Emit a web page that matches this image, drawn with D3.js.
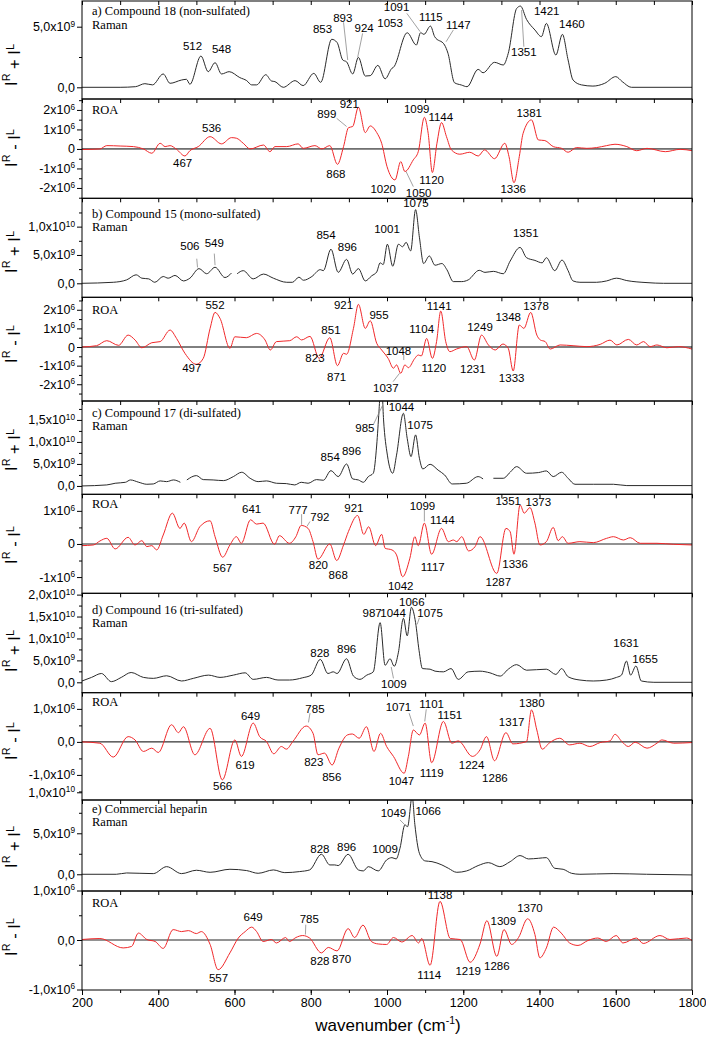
<!DOCTYPE html>
<html>
<head>
<meta charset="utf-8">
<script src="https://cdn.jsdelivr.net/npm/d3@7"></script>
<style>
  body { margin: 0; background: #fff; }
  .sans { font-family: "Liberation Sans", Arial, sans-serif; }
  .serif { font-family: "Liberation Serif", "Times New Roman", serif; }
</style>
</head>
<body>
<svg id="chart" class="sans" width="706" height="1038"></svg>
<script>
// Raman traces in units of 1e9, ROA traces in units of 1e6; [wavenumber, value], null = gap
const ramanA = [[200,0],[300,0],[340,0.05],[365,0.3],[385,0.2],[413,1.1],[431,0.33],[461,0.6],[474,0.66],[483,0.25],[512,2.58],[531,1.29],[549,2.03],[566,1.1],[586,1.29],[614,0.8],[632,0.55],[645,0.2],[658,0.2],[682,1.04],[697,0.52],[706,0.47],[728,0],[759,0.55],[780,0.14],[808,1.15],[826,0.41],[855,3.96],[869,3.7],[884,2.25],[894,2.1],[910,1.1],[925,2.47],[943,0.93],[956,0.96],[976,1.81],[995,0.7],[1013,1.57],[1017,1.65],[1053,4.5],[1077,3.49],[1088,4.5],[1097,4.37],[1114,5.05],[1125,4.18],[1151,3.49],[1160,2.8],[1177,0.38],[1195,0.19],[1210,0.05],[1239,1.48],[1252,1.2],[1282,2.06],[1305,1.84],[1318,2.8],[1340,6.5],[1350,6.7],[1366,5.6],[1388,4.73],[1405,4.18],[1418,5.27],[1443,2.66],[1460,4.37],[1475,2.25],[1488,0.6],[1510,0.2],[1540,0.1],[1571,0.33],[1600,0.88],[1617,0.47],[1641,0],[1800,0]];
const roaA = [[200,-0.03],[247,0],[265,0.17],[300,0.15],[335,0.12],[361,0],[383,-0.22],[405,0.29],[418,0.12],[431,0.17],[448,-0.02],[470,-0.36],[483,-0.09],[505,0.12],[536,0.63],[566,0.26],[592,0.58],[605,0.55],[623,0.29],[641,0],[676,0.2],[693,-0.14],[706,0.12],[737,0.12],[767,0.26],[780,0.03],[811,0.17],[829,0],[850,0.17],[870,-0.79],[886,0.12],[899,1.09],[910,1.15],[925,2.14],[943,0.84],[956,1.18],[973,0.84],[986,0.29],[1000,-0.9],[1021,-1.59],[1036,-0.65],[1047,-1.16],[1069,-0.56],[1082,-0.14],[1098,1.62],[1108,0.8],[1119,-1.21],[1131,0.29],[1143,1.35],[1156,0.63],[1169,-0.05],[1191,-0.27],[1217,-0.17],[1239,-0.36],[1256,-0.05],[1282,-0.5],[1309,0.29],[1320,-0.39],[1333,-1.73],[1347,-0.39],[1357,0.8],[1379,1.49],[1397,0.46],[1414,0.43],[1436,0.12],[1458,0.03],[1475,-0.17],[1497,0.07],[1524,0.03],[1550,0.07],[1576,0.17],[1598,0.24],[1629,0.12],[1655,-0.09],[1682,0.03],[1730,-0.14],[1769,-0.02],[1800,-0.09]];
const ramanB = [[200,0],[282,0.18],[317,0.6],[342,1.5],[357,0.9],[375,0.78],[391,0.18],[413,1.2],[426,0.9],[444,1.39],[466,0.42],[483,0.9],[507,2.59],[527,1.69],[549,2.83],[575,1.02],[592,1.81],[598,null],[607,1.69],[623,2.23],[649,0.78],[676,1.63],[702,0.9],[737,0.18],[752,0.18],[769,1.08],[781,0.54],[803,1.2],[825,2.41],[833,2.23],[853,6.02],[872,1.93],[894,4.22],[910,1.63],[925,2.59],[943,0.42],[960,1.33],[973,2.0],[982,3.61],[990,3.31],[1001,6.9],[1015,3.01],[1030,6.9],[1041,6.45],[1050,7.23],[1062,5.72],[1075,13.0],[1085,8.13],[1096,3.49],[1111,4.82],[1126,3.19],[1144,3.49],[1157,2.41],[1174,0.3],[1196,0.3],[1213,0.6],[1242,2.29],[1257,1.93],[1279,2.11],[1305,1.69],[1323,3.92],[1349,6.33],[1366,4.52],[1388,4.04],[1407,3.61],[1418,4.52],[1440,2.23],[1459,4.1],[1475,2.23],[1488,0.42],[1506,0.18],[1550,0.18],[1576,0.42],[1602,0.9],[1629,0.48],[1682,0.12],[1725,0],[1800,0]];
const roaB = [[200,0],[238,0.07],[265,0.34],[296,0.09],[321,0.64],[339,0.38],[357,-0.04],[383,0.23],[405,0.29],[431,0.91],[448,0.46],[470,-0.34],[500,-0.93],[518,-0.61],[536,1.0],[549,1.86],[562,1.54],[588,-0.07],[601,0.55],[631,0.5],[658,0.73],[680,0.38],[694,-0.16],[710,0.29],[745,0.34],[763,0.55],[776,0.38],[798,0.57],[822,-0.61],[850,0.5],[870,-1.0],[886,-0.34],[894,-0.39],[912,1.0],[925,2.29],[943,1.0],[956,1.41],[973,0.2],[986,-0.16],[1003,-0.61],[1017,-1.14],[1025,-0.96],[1036,-1.41],[1047,-0.96],[1056,-1.11],[1073,-0.61],[1082,-0.43],[1090,-0.48],[1104,0.46],[1119,-0.61],[1130,0.29],[1141,1.93],[1154,0.29],[1165,-0.25],[1182,-0.11],[1209,0.02],[1229,-0.7],[1248,0.64],[1266,0.11],[1284,-0.16],[1304,0.16],[1318,-0.07],[1331,-1.29],[1347,1.18],[1359,1.0],[1377,1.86],[1393,0.64],[1402,0.38],[1415,0.29],[1428,-0.11],[1454,0.11],[1488,0.07],[1524,0.02],[1559,0.14],[1585,0.37],[1603,0.11],[1633,0.41],[1655,0.11],[1673,0.29],[1690,0.02],[1708,0.11],[1734,-0.04],[1765,0.02],[1800,-0.11]];
const ramanC = [[200,0],[265,0.23],[287,0.61],[314,0.83],[327,1.36],[349,0.83],[370,0.38],[387,0.45],[405,1.14],[422,0.98],[440,1.36],[458,0.83],[466,null],[475,1.36],[500,2.35],[518,1.44],[544,1.36],[571,1.21],[597,2.12],[619,3.11],[641,1.74],[662,0.98],[684,1.14],[710,0.61],[736,0.53],[758,0.23],[775,0.83],[793,0.61],[815,1.44],[833,1.29],[853,3.48],[872,2.12],[894,4.99],[910,1.59],[925,1.36],[938,0.83],[951,2.12],[964,2.88],[973,9.3],[979,17],[985,25],[991,15],[1001,7.0],[1015,2.88],[1025,7.0],[1043,16.5],[1053,10.8],[1063,6.67],[1075,11.6],[1085,6.29],[1094,3.86],[1113,4.92],[1134,3.6],[1151,2.5],[1171,0.45],[1208,0.61],[1239,2.12],[1252,1.59],[1265,null],[1279,1.74],[1305,1.74],[1323,3.11],[1340,4.39],[1366,2.88],[1397,3.03],[1418,3.41],[1436,2.12],[1458,3.11],[1475,1.74],[1493,0.38],[1541,0.38],[1594,0.38],[1629,0.08],[1800,0.08]];
const roaC = [[200,-0.05],[230,-0.03],[247,0.09],[265,0.17],[287,-0.15],[321,0.2],[339,-0.03],[357,0.1],[370,-0.08],[383,-0.05],[396,-0.18],[413,0.27],[437,0.93],[457,0.47],[468,0.63],[487,0.07],[509,0.52],[536,0.7],[549,0.22],[569,-0.4],[588,-0.03],[605,0.22],[618,0.02],[642,0.73],[658,0.6],[675,0.63],[705,-0.01],[718,0.25],[744,0.02],[761,0.22],[775,0.56],[793,0.47],[806,0.07],[819,-0.46],[850,0],[868,-0.5],[886,-0.03],[899,0.38],[923,0.86],[939,0.29],[952,0.52],[970,-0.05],[986,0.29],[995,-0.13],[1013,-0.18],[1025,-0.33],[1041,-0.99],[1060,-0.43],[1073,0.22],[1082,-0.05],[1098,0.63],[1117,-0.31],[1143,0.47],[1161,0.07],[1174,0.12],[1183,0.07],[1196,0.22],[1214,-0.21],[1231,-0.08],[1244,0.22],[1288,-0.89],[1312,0.47],[1323,0.37],[1333,-0.31],[1349,1.18],[1360,0.93],[1375,1.1],[1388,0.63],[1401,-0.03],[1418,0.07],[1436,0.5],[1449,0.1],[1460,0.22],[1475,0.02],[1506,0.07],[1541,0.04],[1576,0.17],[1594,0.22],[1620,0.12],[1638,0.19],[1664,0.02],[1708,0.02],[1752,-0.01],[1800,-0.03]];
const ramanD = [[200,0.3],[225,1.12],[251,2.01],[277,0.15],[303,1.12],[329,2.24],[361,1.12],[387,0.9],[422,1.49],[461,0.3],[492,0.9],[532,1.64],[562,1.12],[597,1.64],[628,2.16],[649,0.67],[684,1.12],[714,0.52],[744,0.52],[779,1.04],[801,1.64],[825,5.22],[845,2.01],[859,2.39],[869,2.01],[894,5.37],[912,1.42],[929,0.67],[947,1.64],[964,2.39],[982,13.6],[995,3.88],[1008,5.37],[1019,3.66],[1030,6.87],[1043,14.6],[1053,10.6],[1064,17.1],[1075,13.6],[1084,7.31],[1093,3.13],[1113,2.99],[1126,2.54],[1148,2.39],[1168,3.13],[1187,0.67],[1213,2.39],[1244,2.54],[1270,2.16],[1297,1.42],[1318,2.99],[1340,4.03],[1366,2.76],[1418,2.99],[1443,1.79],[1458,3.13],[1475,1.27],[1506,0.52],[1541,0.3],[1576,0.52],[1602,1.12],[1615,1.64],[1628,4.85],[1639,1.64],[1653,3.73],[1667,0.3],[1700,0],[1800,0]];
const roaD = [[200,0],[247,-0.04],[282,-0.46],[321,0.16],[339,0.06],[361,-0.29],[383,-0.19],[400,-0.32],[435,0.52],[453,0.28],[466,0.46],[496,-0.39],[536,0.41],[568,-1.15],[601,0.06],[618,-0.44],[649,0.57],[666,0.16],[684,0.01],[703,-0.36],[723,-0.14],[736,-0.22],[753,0.01],[788,0.48],[806,0.26],[819,-0.39],[836,-0.34],[856,-0.7],[874,-0.19],[896,0.21],[909,0.24],[927,0.11],[946,0.46],[966,-0.29],[983,0.26],[999,-0.14],[1017,-0.44],[1045,-0.95],[1056,-0.44],[1069,0.36],[1085,0.21],[1100,0.57],[1117,-0.63],[1148,0.62],[1170,-0.04],[1187,0.03],[1224,-0.44],[1244,-0.24],[1261,0.16],[1282,-0.57],[1312,0.28],[1330,-0.06],[1366,0.01],[1379,0.97],[1393,0.36],[1407,-0.22],[1427,-0.02],[1453,0.11],[1479,-0.09],[1506,-0.04],[1532,-0.14],[1559,-0.02],[1585,0.03],[1598,0.23],[1616,0.01],[1633,-0.14],[1651,-0.01],[1682,-0.19],[1708,-0.04],[1721,0.06],[1752,-0.04],[1800,-0.02]];
const ramanE = [[200,0],[290,0],[317,0.16],[352,0.12],[387,0.08],[422,0.93],[461,0.08],[500,0.49],[536,0.24],[588,0.61],[632,0.45],[662,0.12],[702,0.53],[732,0.2],[771,0.33],[797,0.53],[828,2.44],[850,1.14],[863,1.14],[872,1.06],[898,2.44],[925,0.53],[938,0.41],[951,0.93],[977,0.41],[999,1.75],[1013,2.03],[1024,1.87],[1034,3.17],[1047,6.02],[1054,5.81],[1066,9.5],[1073,6.1],[1085,2.56],[1100,1.63],[1118,1.54],[1144,1.14],[1161,0.73],[1183,0.24],[1209,0.41],[1239,1.06],[1266,1.42],[1296,0.93],[1323,1.54],[1349,2.28],[1371,1.87],[1397,1.95],[1418,2.03],[1440,0.73],[1462,0.61],[1484,0.12],[1506,0],[1593,0.08],[1681,0],[1800,-0.08]];
const roaE = [[200,0.01],[247,0.03],[308,-0.16],[330,-0.13],[348,0.14],[370,0.01],[392,-0.03],[413,-0.17],[439,0.21],[461,0.17],[479,0.19],[500,0.13],[513,0.17],[536,-0.09],[557,-0.6],[588,-0.26],[610,0.04],[628,0.17],[645,0.26],[658,0.17],[675,-0.03],[697,0.01],[710,-0.06],[734,0.05],[744,-0.03],[761,0.05],[779,0.09],[797,0.04],[828,-0.26],[846,-0.15],[869,-0.22],[898,0.23],[915,0.05],[937,0.3],[959,-0.03],[977,-0.08],[999,-0.09],[1017,0.05],[1039,-0.04],[1066,0.09],[1083,-0.06],[1091,0.03],[1113,-0.51],[1139,0.78],[1166,0.03],[1192,0.01],[1218,-0.45],[1244,-0.08],[1262,0.39],[1288,-0.33],[1307,0.21],[1327,-0.09],[1345,0.05],[1369,0.43],[1388,0.11],[1401,-0.36],[1418,-0.16],[1437,0.26],[1457,0.14],[1479,-0.06],[1501,-0.11],[1527,-0.01],[1553,0.04],[1575,-0.03],[1601,0.09],[1619,-0.06],[1654,0.04],[1672,-0.07],[1716,0.09],[1742,0.01],[1786,0.04],[1800,-0.01]];

// peak labels: [text, wavenumber, value] and leader lines [wn1, v1, wn2, v2]
const annRamanA = [["512",490,3.43],["548",566,3.16],["853",831,4.78],["893",884,5.74],["924",940,4.86],["1053",1008,5.27],["1091",1025,6.59],["1115",1115,5.77],["1147",1187,5.14],["1351",1359,2.94],["1421",1419,6.29],["1460",1485,5.19]];
const leadRamanA = [[886,5.36,897,2.25],[936,4.45,923,2.47],[1052,6.1,1087,4.59],[1174,4.73,1155,3.76],[1359,3.35,1353,6.37]];
const annRoaA = [["467",464,-0.74],["536",540,1.06],["868",866,-1.28],["899",842,1.78],["921",901,2.29],["1020",990,-2.05],["1050",1083,-2.24],["1099",1078,2.05],["1144",1141,1.66],["1120",1117,-1.59],["1336",1331,-2.05],["1381",1373,1.83]];
const leadRoaA = [[868,1.57,894,1.15],[1069,-1.93,1050,-1.16]];
const annRamanB = [["506",483,6.5],["549",547,7.05],["854",840,8.6],["896",896,6.45],["1001",1000,9.5],["1075",1076,14.1],["1351",1364,8.9]];
const leadRamanB = [[501,4.34,503,2.8],[547,5.24,549,3.2]];
const annRoaB = [["552",549,2.25],["497",488,-1.1],["851",853,0.91],["921",886,2.25],["955",979,1.71],["823",811,-0.61],["871",868,-1.59],["1037",997,-2.18],["1048",1030,-0.21],["1104",1091,0.95],["1141",1137,2.21],["1120",1123,-1.11],["1249",1244,1.09],["1231",1225,-1.2],["1348",1318,1.63],["1333",1327,-1.64],["1378",1391,2.21]];
const leadRoaB = [[1016,-1.86,1033,-1.41],[1044,-0.43,1044,-0.7]];
const annRamanC = [["985",942,13.1],["854",851,6.67],["896",907,7.95],["1044",1038,18.0],["1075",1087,13.9]];
const leadRamanC = [[964,13.9,989,18.4]];
const annRoaC = [["641",645,1.06],["567",569,-0.72],["777",767,1.03],["792",824,0.83],["820",820,-0.62],["868",872,-0.94],["921",913,1.08],["1099",1093,1.16],["1144",1145,0.73],["1117",1120,-0.69],["1042",1036,-1.26],["1287",1292,-1.14],["1336",1336,-0.59],["1351",1318,1.3],["1373",1397,1.28]];
const leadRoaC = [[776,0.9,776,0.58],[798,0.68,790,0.53],[1098,1.03,1098,0.68]];
const annRamanD = [["987",961,15.8],["1044",1016,15.8],["828",824,6.64],["896",894,7.6],["1066",1065,18.4],["1075",1113,15.8],["1009",1018,-0.37],["1631",1627,8.96],["1655",1677,5.37]];
const leadRamanD = [[1085,14.7,1079,13.2],[1017,0.9,1011,3.5]];
const annRoaD = [["649",642,0.77],["566",569,-1.33],["619",628,-0.7],["785",811,1.0],["823",808,-0.62],["856",855,-1.05],["1071",1030,1.05],["1101",1117,1.15],["1151",1165,0.82],["1047",1038,-1.17],["1119",1117,-0.95],["1224",1222,-0.7],["1286",1283,-1.08],["1317",1327,0.6],["1380",1380,1.17]];
const leadRoaD = [[798,0.87,794,0.59],[1058,0.87,1069,0.48],[1103,0.99,1099,0.62]];
const annRamanE = [["828",824,3.05],["896",894,3.37],["1009",995,3.1],["1049",1017,7.44],["1066",1108,7.76]];
const leadRamanE = [[1034,6.63,1047,6.02]];
const annRoaE = [["649",649,0.46],["557",558,-0.77],["785",796,0.42],["828",824,-0.43],["870",881,-0.38],["1138",1139,0.9],["1114",1111,-0.7],["1219",1213,-0.62],["1286",1288,-0.52],["1309",1305,0.38],["1370",1375,0.65]];
const leadRoaE = [[787,0.31,786,0.11]];

// y tick labels: [value, mantissa, exponent]
const ticksRamanA = [[0,"0,0",""],[5,"5,0x10","9"]];
const ticksRoaAB = [[2,"2x10","6"],[1,"1x10","6"],[0,"0",""],[-1,"-1x10","6"],[-2,"-2x10","6"]];
const ticksRamanB = [[0,"0,0",""],[5,"5,0x10","9"],[10,"1,0x10","10"]];
const ticksRamanC = [[0,"0,0",""],[5,"5,0x10","9"],[10,"1,0x10","10"],[15,"1,5x10","10"]];
const ticksRoaC = [[1,"1x10","6"],[0,"0",""],[-1,"-1x10","6"]];
const ticksRamanD = [[0,"0,0",""],[5,"5,0x10","9"],[10,"1,0x10","10"],[15,"1,5x10","10"],[20,"2,0x10","10"]];
const ticksRoaDE = [[1,"1,0x10","6"],[0,"0,0",""],[-1,"-1,0x10","6"]];
const ticksRamanE = [[0,"0,0",""],[5,"5,0x10","9"],[10,"1,0x10","10"]];
const xTicks = [200,400,600,800,1000,1200,1400,1600,1800];

const X0 = 82, X1 = 692;
const x = d3.scaleLinear().domain([200, 1800]).range([X0, X1]);
const svg = d3.select("#chart");

const panels = [
  {kind:"raman", data:ramanA, ann:annRamanA, lead:leadRamanA, ticks:ticksRamanA, step:5, top:1, bottom:99, domain:[-0.965,7.12], titleY:65, head:["a) Compound 18 (non-sulfated)","Raman"], headY:[11,25]},
  {kind:"roa", data:roaA, ann:annRoaA, lead:leadRoaA, ticks:ticksRoaAB, step:1, top:99, bottom:198.3, domain:[-2.53,2.56], titleY:148, head:["ROA"], headY:[110], zero:"#000"},
  {kind:"raman", data:ramanB, ann:annRamanB, lead:leadRamanB, ticks:ticksRamanB, step:5, top:198.3, bottom:297.3, domain:[-2.47,15.0], titleY:252, head:["b) Compound 15 (mono-sulfated)","Raman"], headY:[213.5,226.5]},
  {kind:"roa", data:roaB, ann:annRoaB, lead:leadRoaB, ticks:ticksRoaAB, step:1, top:297.3, bottom:401, domain:[-2.9,2.67], titleY:344, head:["ROA"], headY:[310], zero:"#000"},
  {kind:"raman", data:ramanC, ann:annRamanC, lead:leadRamanC, ticks:ticksRamanC, step:5, top:401, bottom:494.3, domain:[-1.9,19.3], titleY:450, head:["c) Compound 17 (di-sulfated)","Raman"], headY:[413,425.5]},
  {kind:"roa", data:roaC, ann:annRoaC, lead:leadRoaC, ticks:ticksRoaC, step:1, top:494.3, bottom:593.3, domain:[-1.49,1.5], titleY:545, head:["ROA"], headY:[504], zero:"#6e6e6e"},
  {kind:"raman", data:ramanD, ann:annRamanD, lead:leadRamanD, ticks:ticksRamanD, step:5, top:593.3, bottom:692.7, domain:[-2.37,20.3], titleY:651, head:["d) Compound 16 (tri-sulfated)","Raman"], headY:[610,623]},
  {kind:"roa", data:roaD, ann:annRoaD, lead:leadRoaD, ticks:ticksRoaDE, step:1, top:692.7, bottom:800, domain:[-1.76,1.49], titleY:741, head:["ROA"], headY:[702], zero:"#000"},
  {kind:"raman", data:ramanE, ann:annRamanE, lead:leadRamanE, ticks:ticksRamanE, step:5, top:800, bottom:891, domain:[-2.04,9.06], titleY:847, head:["e) Commercial heparin","Raman"], headY:[809,822]},
  {kind:"roa", data:roaE, ann:annRoaE, lead:leadRoaE, ticks:ticksRoaDE, step:1, top:891, bottom:990, domain:[-1.01,0.99], titleY:937, head:["ROA"], headY:[903], zero:"#6e6e6e"}
];

function supLabel(sel, base, sup) {
  sel.text(null);
  sel.append("tspan").text(base);
  if (sup) sel.append("tspan").attr("font-size", "0.66em").attr("dy", "-0.55em").text(sup);
}

const defs = svg.append("defs");

panels.forEach((p, i) => {
  const y = d3.scaleLinear().domain(p.domain).range([p.bottom, p.top]);
  const g = svg.append("g").attr("class", "panel");

  defs.append("clipPath").attr("id", "clip" + i)
    .append("rect")
    .attr("x", X0).attr("y", p.top)
    .attr("width", X1 - X0).attr("height", p.bottom - p.top);

  if (p.kind === "roa") {
    g.append("line")
      .attr("x1", X0).attr("x2", X1)
      .attr("y1", y(0)).attr("y2", y(0))
      .attr("stroke", p.zero)
      .attr("stroke-width", p.zero === "#000" ? 1 : 1.6);
  }

  const line = d3.line()
    .defined(d => d[1] !== null)
    .x(d => x(d[0]))
    .y(d => y(d[1]))
    .curve(d3.curveMonotoneX);

  g.append("path")
    .datum(p.data)
    .attr("clip-path", "url(#clip" + i + ")")
    .attr("fill", "none")
    .attr("stroke", p.kind === "roa" ? "#f0282a" : "#2a2a2a")
    .attr("stroke-width", 1)
    .attr("stroke-linejoin", "round")
    .attr("d", line);

  // frame
  g.append("rect")
    .attr("x", X0).attr("y", p.top)
    .attr("width", X1 - X0).attr("height", p.bottom - p.top)
    .attr("fill", "none").attr("stroke", "#000").attr("stroke-width", 1);

  // inward x ticks along the top of each panel
  g.append("g")
    .attr("transform", `translate(0,${p.top})`)
    .call(d3.axisBottom(x).tickValues(d3.range(200, 1801, 100)).tickSize(4).tickFormat(""))
    .call(a => a.select(".domain").remove());

  // minor y ticks
  const lo = Math.ceil(p.domain[0] / (p.step / 2)) * (p.step / 2);
  const minor = d3.range(lo, p.domain[1], p.step / 2).filter(v => Math.abs((v / p.step) % 1) > 0.01);
  g.append("g")
    .attr("transform", `translate(${X0},0)`)
    .call(d3.axisLeft(y).tickValues(minor).tickSize(3).tickFormat(""))
    .call(a => a.select(".domain").remove());

  // major y ticks with labels
  const yAxis = g.append("g")
    .attr("transform", `translate(${X0},0)`)
    .call(d3.axisLeft(y).tickValues(p.ticks.map(t => t[0])).tickSize(5).tickPadding(2).tickFormat(""))
    .call(a => a.select(".domain").remove());
  yAxis.selectAll(".tick text")
    .attr("class", "sans")
    .attr("font-size", 12.5)
    .attr("fill", "#000")
    .each(function(d, k) { supLabel(d3.select(this), p.ticks[k][1], p.ticks[k][2]); });

  // y title
  const tt = g.append("text")
    .attr("transform", `translate(17,${p.titleY}) rotate(-90)`)
    .attr("text-anchor", "middle")
    .attr("font-size", 16.5);
  tt.append("tspan").text("I");
  tt.append("tspan").attr("font-size", "0.66em").attr("dy", "-0.6em").text("R");
  tt.append("tspan").attr("dy", "0.6em").text(p.kind === "roa" ? " - I" : " + I");
  tt.append("tspan").attr("font-size", "0.66em").attr("dy", "-0.6em").text("L");

  // headings
  p.head.forEach((h, k) => {
    g.append("text")
      .attr("class", "serif")
      .attr("x", 92).attr("y", p.headY[k]).attr("dy", "0.35em")
      .attr("font-size", 12.5)
      .text(h);
  });

  // leader lines
  g.selectAll(".lead").data(p.lead).join("line")
    .attr("x1", d => x(d[0])).attr("y1", d => y(d[1]))
    .attr("x2", d => x(d[2])).attr("y2", d => y(d[3]))
    .attr("stroke", "#8a8a8a").attr("stroke-width", 0.8);

  // peak labels
  g.selectAll(".ann").data(p.ann).join("text")
    .attr("x", d => x(d[1])).attr("y", d => y(d[2]))
    .attr("dy", "0.35em")
    .attr("text-anchor", "middle")
    .attr("font-size", 11.5)
    .text(d => d[0]);
});

// bottom x axis
const last = panels[panels.length - 1];
svg.append("g")
  .attr("transform", `translate(0,${last.bottom})`)
  .call(d3.axisBottom(x).tickValues(d3.range(200, 1801, 100)).tickSize(3).tickFormat(""))
  .call(a => a.select(".domain").remove());
svg.append("g")
  .attr("transform", `translate(0,${last.bottom})`)
  .call(d3.axisBottom(x).tickValues(xTicks).tickSize(5).tickPadding(3).tickFormat(d3.format("d")))
  .call(a => a.select(".domain").remove())
  .call(a => a.selectAll(".tick text").attr("class", "sans").attr("font-size", 12.5).attr("fill", "#000"));

const xt = svg.append("text")
  .attr("x", 388).attr("y", 1031)
  .attr("text-anchor", "middle")
  .attr("font-size", 17);
xt.append("tspan").text("wavenumber (cm");
xt.append("tspan").attr("font-size", "0.62em").attr("dy", "-0.65em").text("-1");
xt.append("tspan").attr("dy", "0.4em").text(")");
</script>
</body>
</html>
